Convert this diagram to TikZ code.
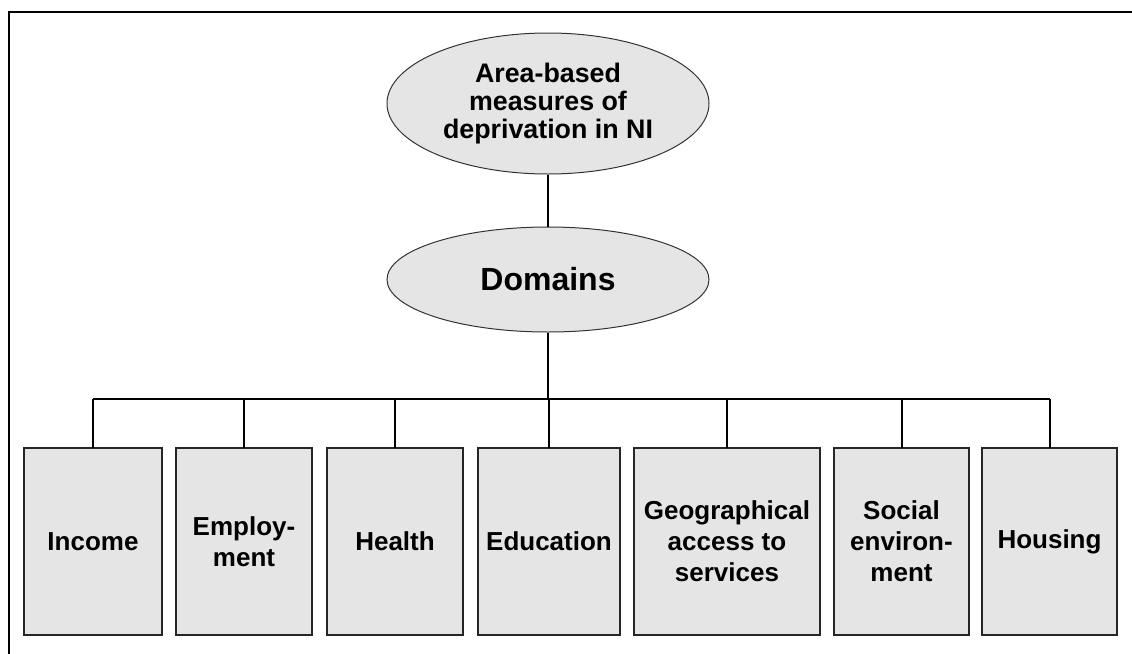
\documentclass[tikz,border=0pt]{standalone}
\usepackage{fontspec}
\setmainfont{Liberation Sans}
\usetikzlibrary{shapes.geometric,positioning}
\definecolor{boxgray}{RGB}{229,229,229}

\begin{document}
\begin{tikzpicture}[x=0.5pt, y=-0.5pt, node distance=7pt,
  block/.style={draw=black!85, line width=0.7pt, fill=boxgray, minimum height=93.5pt, inner sep=2pt, outer sep=0pt, align=center, font=\fontsize{13}{15.5}\selectfont\bfseries},
  oval/.style={ellipse, draw=black!80, line width=0.5pt, fill=boxgray, minimum width=161pt, inner sep=0pt, align=center},
  link/.style={line width=1pt}]

  \useasboundingbox (0,0) rectangle (1132,654);

  % frame, only top and left edges on the page
  \draw[line width=1pt] (1140,11.5) -- (8.5,11.5) -- (8.5,660);

  % Ellipses
  \node[oval, minimum height=70.5pt, font=\fontsize{13.4}{14.2}\selectfont\bfseries] (area) at (548,103.5) {Area-based\\measures of\\deprivation in NI};
  \node[oval, minimum height=52.5pt, font=\fontsize{16}{18}\selectfont\bfseries] (domains) at (548,279.5) {Domains};

  % Domain boxes
  \node[block, minimum width=69pt, anchor=north west] (income) at (24,448) {Income};
  \node[block, minimum width=68pt, right=of income] (employment) {Employ-\\ment};
  \node[block, minimum width=68pt, right=7.5pt of employment] (health) {Health};
  \node[block, minimum width=71pt, right=7.5pt of health] (education) {Education};
  \node[block, minimum width=93pt, right=of education] (access) {Geographical\\access to\\services};
  \node[block, minimum width=67.5pt, right=of access] (social) {Social\\environ-\\ment};
  \node[block, minimum width=67.5pt, right=6.5pt of social] (housing) {Housing};

  % Connectors
  \coordinate (bus) at (548,399);
  \draw[link] (area) -- (domains);
  \draw[link] (domains) -- (bus);
  \draw[link] (bus -| income.north) -- (bus -| housing.north);
  \foreach \b in {income,employment,health,education,access,social,housing}
    \draw[link] (bus -| \b.north) -- (\b.north);

\end{tikzpicture}
\end{document}
